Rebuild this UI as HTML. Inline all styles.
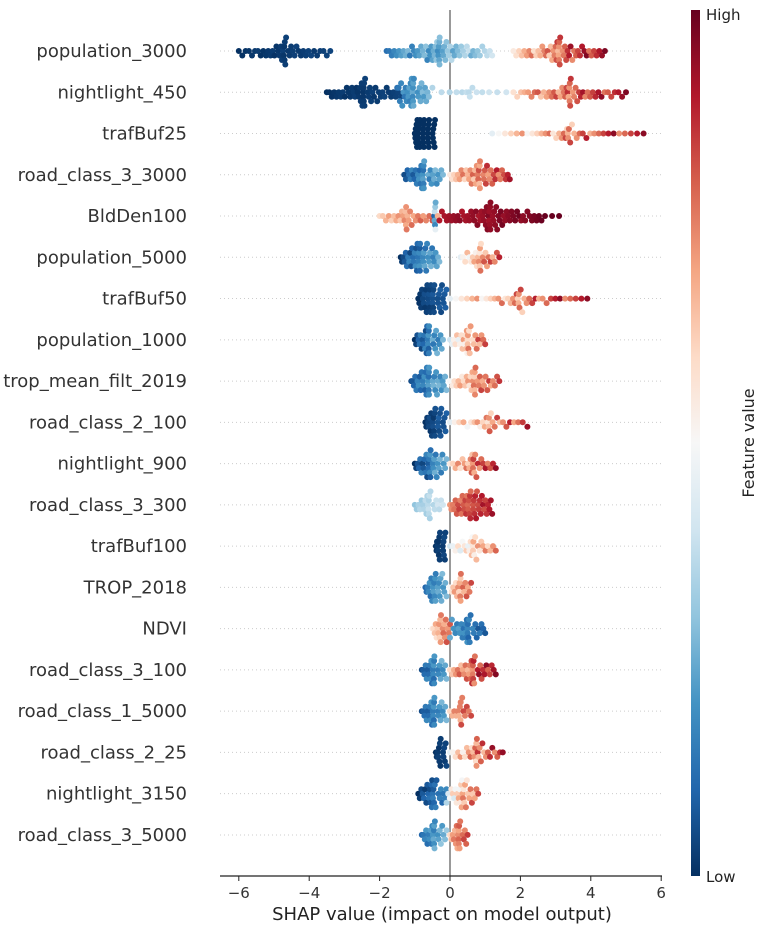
<!DOCTYPE html>
<html><head><meta charset="utf-8">
<style>
html,body{margin:0;padding:0;background:#fff;}
svg{display:block;font-family:"DejaVu Sans","Liberation Sans",sans-serif;}
</style></head>
<body>
<svg id="chart" width="760" height="928" viewBox="0 0 760 928" xmlns="http://www.w3.org/2000/svg">
<defs>
<linearGradient id="cbgrad" x1="0" y1="1" x2="0" y2="0">
<stop offset="0" stop-color="#053061"/><stop offset="0.1" stop-color="#2166ac"/><stop offset="0.2" stop-color="#4393c3"/><stop offset="0.3" stop-color="#92c5de"/><stop offset="0.4" stop-color="#d1e5f0"/><stop offset="0.5" stop-color="#f7f7f7"/><stop offset="0.6" stop-color="#fddbc7"/><stop offset="0.7" stop-color="#f4a582"/><stop offset="0.8" stop-color="#d6604d"/><stop offset="0.9" stop-color="#b2182b"/><stop offset="1" stop-color="#67001f"/>
</linearGradient>
</defs>
<g id="grid"></g>
<line x1="450" y1="10" x2="450" y2="876" stroke="#999" stroke-width="2"/>
<g id="points"></g>
<g id="labels"></g>
<g id="xaxis"></g>
<text x="442" y="920" font-size="18" fill="#222" text-anchor="middle">SHAP value (impact on model output)</text>
<rect x="691" y="10" width="9" height="866" fill="url(#cbgrad)"/>
<text x="706" y="20" font-size="15" fill="#222">High</text>
<text x="706" y="882" font-size="15" fill="#222">Low</text>
<text x="754" y="443" font-size="16" fill="#222" text-anchor="middle" transform="rotate(-90 754 443)">Feature value</text>
</svg>
<script>
const features = ["population_3000","nightlight_450","trafBuf25","road_class_3_3000","BldDen100","population_5000","trafBuf50","population_1000","trop_mean_filt_2019","road_class_2_100","nightlight_900","road_class_3_300","trafBuf100","TROP_2018","NDVI","road_class_3_100","road_class_1_5000","road_class_2_25","nightlight_3150","road_class_3_5000"];
const xTicks = [-6,-4,-2,0,2,4,6];
// clusters per feature: [shapMin, shapMax, count, colorLow, colorHigh]
const clusters = [
 [[-6,-3.4,45,0.0,0.04],[-1.8,1.2,70,0.12,0.42],[1.8,4.4,55,0.55,1.0]],
 [[-3.5,-1.4,50,0.0,0.04],[-1.5,-0.6,40,0.12,0.3],[-0.5,1.6,14,0.35,0.42],[1.8,5.0,50,0.58,1.0]],
 [[-1.0,-0.4,80,0.0,0.0],[1.2,5.5,40,0.45,1.0]],
 [[-1.3,-0.2,40,0.05,0.3],[0.0,1.7,50,0.55,0.95]],
 [[-2.0,-0.5,28,0.6,0.85],[-0.45,-0.35,20,0.1,0.8],[-0.3,2.6,70,0.9,1.0],[2.7,3.1,3,1,1]],
 [[-1.4,-0.3,50,0.0,0.3],[0.3,1.4,28,0.45,0.95]],
 [[-0.9,-0.1,50,0.0,0.1],[0.0,3.9,40,0.45,1.0]],
 [[-1.0,-0.2,38,0.0,0.3],[0.0,1.0,32,0.4,0.9]],
 [[-1.1,-0.1,45,0.05,0.3],[0.0,1.4,38,0.5,0.9]],
 [[-0.7,-0.1,38,0.0,0.1],[0.0,2.2,28,0.45,1.0]],
 [[-1.0,-0.1,38,0.0,0.3],[0.0,1.3,28,0.55,1.0]],
 [[-1.0,-0.2,26,0.3,0.42],[0.0,1.2,50,0.72,0.95]],
 [[-0.4,-0.1,32,0.0,0.05],[0.0,1.3,28,0.4,0.85]],
 [[-0.7,-0.1,32,0.1,0.3],[0.0,0.6,22,0.5,0.9]],
 [[-0.5,0.0,26,0.55,0.85],[0.0,1.0,32,0.25,0.05]],
 [[-0.8,-0.1,32,0.05,0.3],[0.0,1.3,38,0.6,1.0]],
 [[-0.8,-0.1,32,0.05,0.3],[0.0,0.6,16,0.6,0.9]],
 [[-0.4,-0.1,22,0.0,0.05],[0.0,1.5,32,0.45,1.0]],
 [[-0.9,-0.1,32,0.0,0.2],[-0.1,0.8,32,0.35,0.9]],
 [[-0.8,-0.1,28,0.1,0.35],[0.0,0.5,22,0.6,0.9]]
];
const NS="http://www.w3.org/2000/svg";
const X0=450, PX=35.2, Y0=51, DY=41.26;
const xs=v=>X0+v*PX, ys=i=>Y0+i*DY;
const stops=[[5,48,97],[33,102,172],[67,147,195],[146,197,222],[209,229,240],[247,247,247],[253,219,199],[244,165,130],[214,96,77],[178,24,43],[103,0,31]];
function cmap(t){t=Math.max(0,Math.min(1,t))*10;const i=Math.min(9,Math.floor(t)),f=t-i;const a=stops[i],b=stops[i+1];return `rgb(${a.map((c,k)=>Math.round(c+(b[k]-c)*f)).join(',')})`;}
function el(tag,attrs,parent){const e=document.createElementNS(NS,tag);for(const k in attrs)e.setAttribute(k,attrs[k]);parent.appendChild(e);return e;}
const grid=document.getElementById('grid'),pts=document.getElementById('points'),lab=document.getElementById('labels'),xa=document.getElementById('xaxis');
features.forEach((f,i)=>{
 const g=el('line',{x1:220,x2:662,y1:ys(i),y2:ys(i),stroke:'#ccc','stroke-width':1,'stroke-dasharray':'1 3'},grid);
 
 
 const t=el('text',{x:187,y:ys(i)+6,'font-size':18,fill:'#333','text-anchor':'end'},lab);
 t.textContent=f;
 
 
 const bins={};
 const grp=el('g',{},pts);
 
 
 clusters[i].forEach(c=>{
  const [a,b,n,c0,c1]=c;
  for(let k=0;k<n;k++){
   const t0=n>1?k/(n-1):0.5;const u=2*t0-1;
   const v=(a+b)/2+(b-a)/2*Math.sign(u)*Math.pow(Math.abs(u),1.7);
   const px=xs(v);const bin=Math.round(px/5);
   const cnt=bins[bin]||0;bins[bin]=cnt+1;
   const off=(cnt%2?1:-1)*Math.ceil(cnt/2)*4.5;
   if(Math.abs(off)>17) continue;
   const col=cmap(c0+(c1-c0)*((k*7)%n/n*0.5+t0*0.5));
   const d=el('circle',{cx:px.toFixed(1),cy:(ys(i)+off).toFixed(1),r:3,fill:col},grp);
   
   
  }
 });
});
const ax=el('line',{x1:220,x2:662,y1:876,y2:876,stroke:'#222','stroke-width':1.2},xa);


xTicks.forEach(v=>{
 const tk=el('line',{x1:xs(v),x2:xs(v),y1:876,y2:881,stroke:'#222','stroke-width':1},xa);
 
 
 const tl=el('text',{x:xs(v),y:898,'font-size':15,fill:'#333','text-anchor':'middle'},xa);
 tl.textContent=(v<0?'\u2212':'')+Math.abs(v);
 
 
});
</script>
</body></html>
